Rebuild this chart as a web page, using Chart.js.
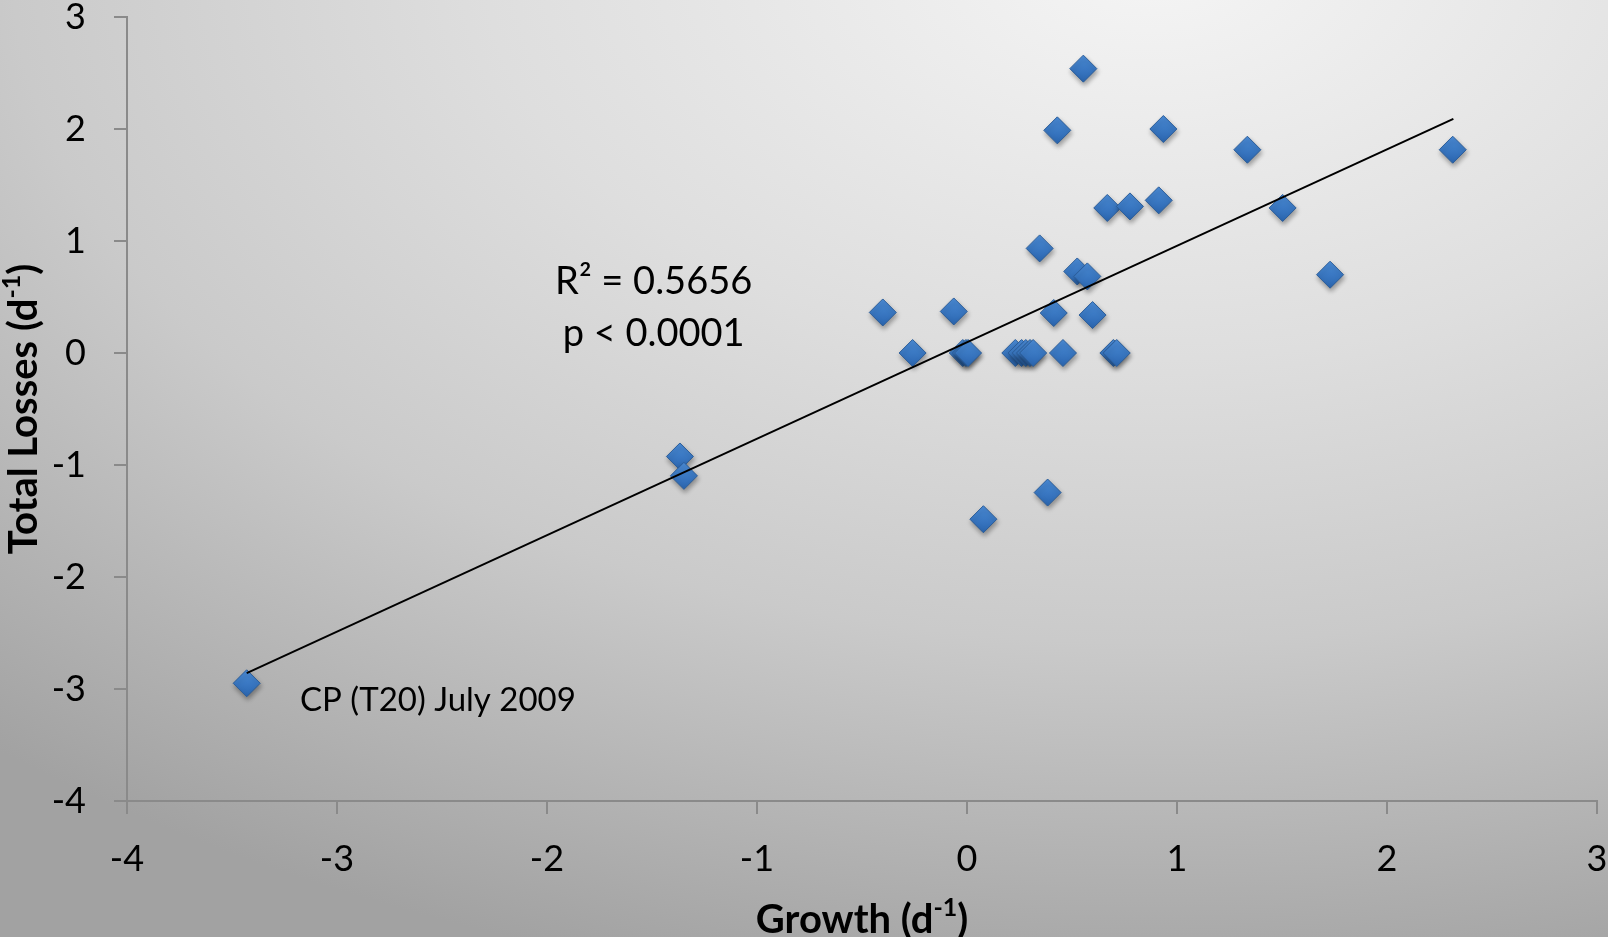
<!DOCTYPE html>
<html>
<head>
<meta charset="utf-8">
<script src="https://cdn.jsdelivr.net/npm/chart.js@4.4.1/dist/chart.umd.min.js"></script>
<style>
  html, body { margin: 0; padding: 0; }
  #wrap {
    width: 1608px; height: 937px; position: relative;
    background: radial-gradient(ellipse 1750px 1050px at 1150px -40px, #f5f5f5 0%, #dedede 38%, #cacaca 65%, #a2a2a2 100%);
  }
</style>
</head>
<body>
<div id="wrap"><canvas id="grafico" width="1608" height="937"></canvas></div>
<script>
// valores
const growth = [-3.43, -1.367, -1.348, -0.401, -0.259, -0.063, -0.02, -0.005, 0.005, 0.078,
  0.23, 0.26, 0.28, 0.30, 0.315, 0.346, 0.384, 0.413, 0.430, 0.457,
  0.525, 0.573, 0.554, 0.598, 0.668, 0.697, 0.713, 0.776, 0.913, 0.935,
  1.335, 1.503, 1.729, 2.313];
const losses = [-2.949, -0.924, -1.097, 0.362, 0, 0.371, 0, 0, 0, -1.484,
  0, 0, 0, 0, 0, 0.934, -1.246, 0.357, 1.988, 0,
  0.728, 0.684, 2.539, 0.339, 1.295, 0, 0, 1.309, 1.363, 2.0,
  1.815, 1.295, 0.699, 1.815];

// linha de tendência (pontos extremos)
const trendX = [-3.43, 2.316];
const trendY = [-2.859, 2.090];

const xTicks = [-4, -3, -2, -1, 0, 1, 2, 3];
const yTicks = [-4, -3, -2, -1, 0, 1, 2, 3];

// textos soltos no gráfico (posição em unidades dos eixos)
const notas = [
  { texto: 'R\u00B2 = 0.5656', x: -1.492, y: 0.639, align: 'center' },
  { texto: 'p < 0.0001', x: -1.492, y: 0.171, align: 'center' },
  { texto: 'CP (T20) July 2009', x: -3.176, y: -3.10, align: 'left', tam: 33 }
];

const FONTE = 'Lato, "Open Sans", sans-serif';
const corEixo = '#8a8a8a';

const pontos = growth.map((g, i) => ({ x: g, y: losses[i] }));
const tendencia = trendX.map((t, i) => ({ x: t, y: trendY[i] }));

function corDiamante(ctx) {
    if (!ctx.parsed || !ctx.chart.scales.y) return '#3a78c2';
    const py = ctx.chart.scales.y.getPixelForValue(ctx.parsed.y);
    if (!isFinite(py)) return '#3a78c2';
    const g = ctx.chart.ctx.createLinearGradient(0, py - 13, 0, py + 13);
    g.addColorStop(0, '#4a8bd6');
    g.addColorStop(1, '#2b66b0');
    return g;
}

// sombra dos marcadores
const sombraPlugin = {
    id: 'sombra',
    beforeDatasetDraw(chart, args) {
        if (args.index !== 1) return;
        const c = chart.ctx;
        c.save();
        c.shadowColor = 'rgba(0,0,0,0.35)';
        c.shadowBlur = 5;
        c.shadowOffsetX = 1;
        c.shadowOffsetY = 3;
    },
    afterDatasetDraw(chart, args) {
        if (args.index !== 1) return;
        chart.ctx.restore();
    }
};

function textoComExpoente(c, partes, x, y, tam) {
    // partes: [texto normal, expoente, texto normal]
    const pequeno = Math.round(tam * 0.62);
    c.font = 'bold ' + tam + 'px ' + FONTE;
    const w1 = c.measureText(partes[0]).width;
    const w3 = c.measureText(partes[2]).width;
    c.font = 'bold ' + pequeno + 'px ' + FONTE;
    const w2 = c.measureText(partes[1]).width;
    let px = x - (w1 + w2 + w3) / 2;
    c.textAlign = 'left';
    c.textBaseline = 'middle';
    c.font = 'bold ' + tam + 'px ' + FONTE;
    c.fillText(partes[0], px, y);
    px += w1;
    c.font = 'bold ' + pequeno + 'px ' + FONTE;
    c.fillText(partes[1], px, y - tam * 0.3);
    px += w2;
    c.font = 'bold ' + tam + 'px ' + FONTE;
    c.fillText(partes[2], px, y);
}

const textosPlugin = {
    id: 'textos',
    afterDraw(chart) {
        const c = chart.ctx;
        const area = chart.chartArea;
        const sx = chart.scales.x, sy = chart.scales.y;
        c.save();
        c.fillStyle = '#000';
        // títulos dos eixos
        textoComExpoente(c, ['Growth (d', '-1', ')'], (area.left + area.right) / 2, 920, 40);
        c.save();
        c.translate(24, (area.top + area.bottom) / 2);
        c.rotate(-Math.PI / 2);
        textoComExpoente(c, ['Total Losses (d', '-1', ')'], 0, 0, 40);
        c.restore();
        // anotações
        notas.forEach(n => {
            c.font = (n.tam || 38) + 'px ' + FONTE;
            c.textAlign = n.align;
            c.textBaseline = 'middle';
            c.fillText(n.texto, sx.getPixelForValue(n.x), sy.getPixelForValue(n.y));
        });
        c.restore();
    }
};

new Chart(document.getElementById('grafico'), {
    type: 'scatter',
    data: {
        datasets: [
            {
                type: 'line',
                label: 'Tendência',
                data: tendencia,
                borderColor: '#000',
                borderWidth: 2,
                pointRadius: 0,
                fill: false,
                order: 0
            },
            {
                label: 'Pontos',
                data: pontos,
                pointStyle: 'rectRot',
                pointRadius: 13.5,
                pointHoverRadius: 13.5,
                pointBackgroundColor: corDiamante,
                pointBorderColor: '#2a5c98',
                pointBorderWidth: 1,
                order: 1
            }
        ]
    },
    options: {
        responsive: false,
        animation: false,
        events: [],
        layout: { autoPadding: false, padding: { top: 17, right: 11, left: 0, bottom: 0 } },
        plugins: { legend: { display: false }, tooltip: { enabled: false } },
        scales: {
            x: {
                type: 'linear',
                min: -4, max: 3,
                afterBuildTicks: s => { s.ticks = xTicks.map(v => ({ value: v })); },
                afterFit: s => { s.height = 136; s.paddingLeft = 0; s.paddingRight = 0; },
                border: { display: true, color: corEixo, width: 2 },
                grid: { drawOnChartArea: false, drawTicks: true, tickLength: 13, color: corEixo, lineWidth: 2 },
                ticks: { color: '#000', font: { family: FONTE, size: 36 }, padding: 24, maxRotation: 0 },
                title: { display: false }
            },
            y: {
                type: 'linear',
                min: -4, max: 3,
                afterBuildTicks: s => { s.ticks = yTicks.map(v => ({ value: v })); },
                afterFit: s => { s.width = 127; s.paddingTop = 0; s.paddingBottom = 0; },
                border: { display: true, color: corEixo, width: 2 },
                grid: { drawOnChartArea: false, drawTicks: true, tickLength: 13, color: corEixo, lineWidth: 2 },
                ticks: { color: '#000', font: { family: FONTE, size: 36 }, padding: 28 },
                title: { display: false }
            }
        }
    },
    plugins: [sombraPlugin, textosPlugin]
});
</script>
</body>
</html>
